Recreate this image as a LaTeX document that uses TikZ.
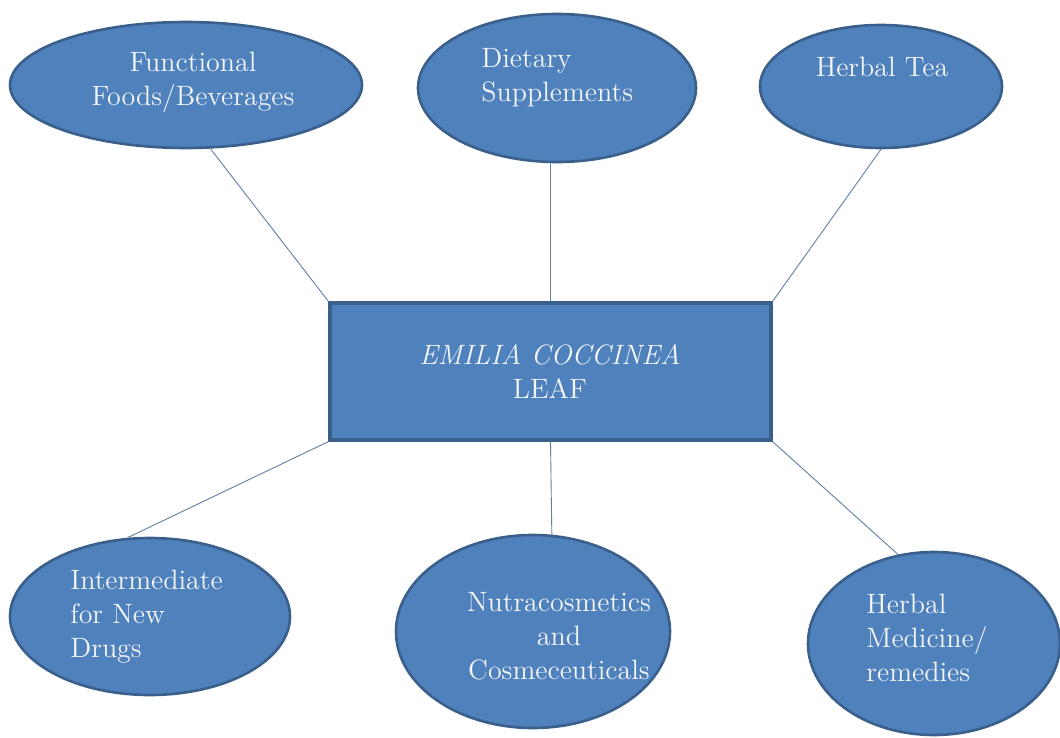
\documentclass[tikz,border=0pt]{standalone}
\usetikzlibrary{shapes.geometric}
\definecolor{bluefill}{HTML}{4F81BD}
\definecolor{blueline}{HTML}{3A5F8B}
\definecolor{txtwhite}{HTML}{F4F6FA}
\begin{document}
\begin{tikzpicture}[x=0.5pt,y=-0.5pt,
  bubble/.style={ellipse,draw=blueline,line width=1.3pt,fill=bluefill,inner sep=0pt},
  centerbox/.style={rectangle,draw=blueline,line width=1.6pt,fill=bluefill,inner sep=0pt,
    minimum width=220.5pt,minimum height=68.5pt},
  lbl/.style={text=txtwhite,font=\fontsize{14}{17}\selectfont,inner sep=0pt},
  link/.style={draw=blueline!80,line width=0.45pt}]
\useasboundingbox (0,0) rectangle (1060,738);
% central box
\node[centerbox] (c) at (550.5,371.5) {};
% ellipses
\node[bubble,minimum width=176pt,minimum height=63pt] (e1) at (186,85) {};
\node[bubble,minimum width=139pt,minimum height=74pt] (e2) at (557,88) {};
\node[bubble,minimum width=121pt,minimum height=61.5pt] (e3) at (881,86.5) {};
\node[bubble,minimum width=140pt,minimum height=78.5pt] (e4) at (150,616.5) {};
\node[bubble,minimum width=137pt,minimum height=96.5pt] (e5) at (533,631.5) {};
\node[bubble,minimum width=126pt,minimum height=91.5pt] (e6) at (934,643.5) {};
% connectors
\draw[link] (e1.-69) -- (c.north west);
\draw[link] (e2.-95) -- (c.north -| e2.-95);
\draw[link] (e3.-90) -- (c.north east);
\draw[link] (c.south west) -- (e4.106);
\draw[link] (c.south) -- (e5.79);
\draw[link] (c.south east) -- (e6.112);
% texts
\node[lbl,align=center] (t1) at (193,82) {Functional\\Foods/Beverages};
\node[lbl,align=left,anchor=west] (t2) at (481,78) {Dietary\\Supplements};
\node[lbl] (t3) at (882,67) {Herbal Tea};
\node[lbl,align=center] (tc) at (550,372) {\textit{EMILIA COCCINEA}\\LEAF};
\node[lbl,align=left,anchor=west] (t4) at (70,617) {Intermediate\\for New\\Drugs};
\node[lbl,align=center] (t5) at (559,636) {Nutracosmetics\\and\\Cosmeceuticals};
\node[lbl,align=left,anchor=west] (t6) at (866,638) {Herbal\\Medicine/\\remedies};
\end{tikzpicture}
\end{document}
